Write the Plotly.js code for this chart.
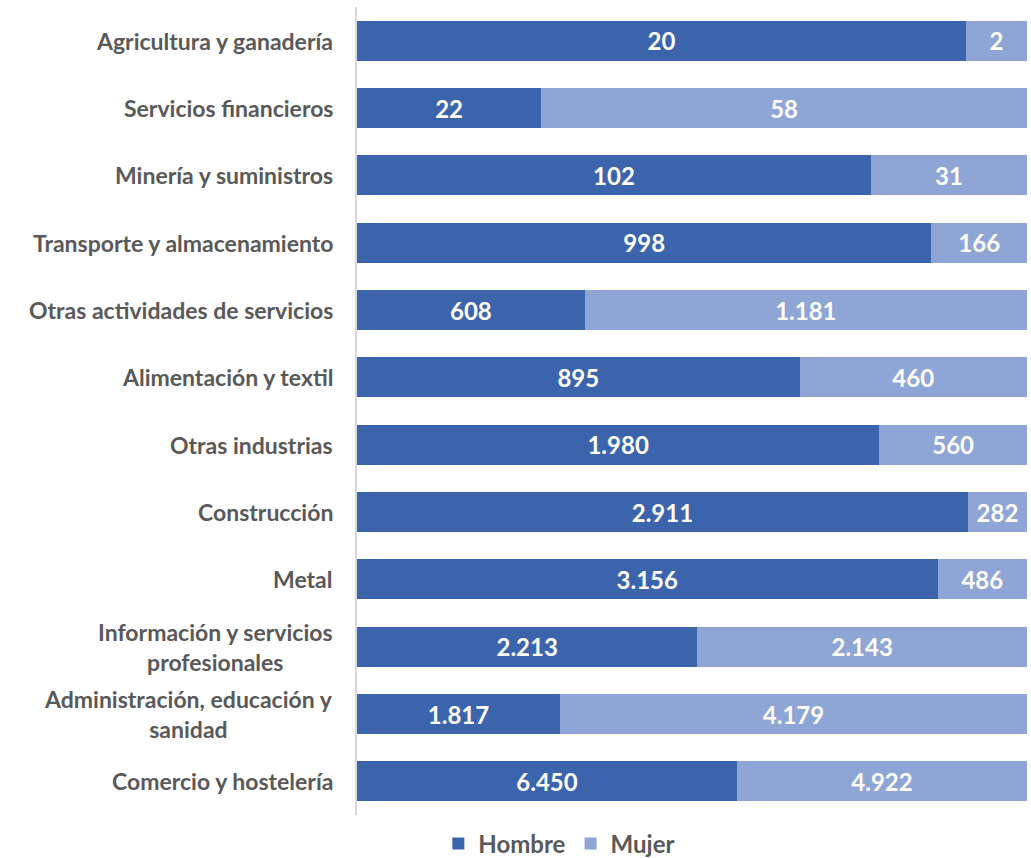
<!DOCTYPE html>
<html>
<head>
<meta charset="utf-8">
<script src="https://cdn.plot.ly/plotly-3.0.1.min.js"></script>
<style>html,body{margin:0;padding:0;background:#fff;}#chart{width:1031px;height:858px;}</style>
</head>
<body>
<div id="chart"></div>
<script>
const categories = [
  "Agricultura y ganadería",
  "Servicios financieros",
  "Minería y suministros",
  "Transporte y almacenamiento",
  "Otras actividades de servicios",
  "Alimentación y textil",
  "Otras industrias",
  "Construcción",
  "Metal",
  "Información y servicios<br>profesionales",
  "Administración, educación y<br>sanidad",
  "Comercio y hostelería"
];
const hombre = [20, 22, 102, 998, 608, 895, 1980, 2911, 3156, 2213, 1817, 6450];
const mujer  = [2, 58, 31, 166, 1181, 460, 560, 282, 486, 2143, 4179, 4922];

function fmt(v){ return String(v).replace(/\B(?=(\d{3})+(?!\d))/g, "."); }

const FONT = "Lato, 'Open Sans', sans-serif";
const ids = categories.map((c,i)=>"c"+i);

const common = {
  type: 'bar', orientation: 'h', y: ids,
  textposition: 'inside', insidetextanchor: 'middle', constraintext: 'none', textangle: 0,
  textfont: {family: FONT, size: 24, color: '#ffffff', weight: 'bold'},
  hoverinfo: 'skip'
};

const traces = [
  Object.assign({}, common, {name: 'Hombre', x: hombre, text: hombre.map(fmt), marker: {color: '#3C64AD'}}),
  Object.assign({}, common, {name: 'Mujer', x: mujer, text: mujer.map(fmt), marker: {color: '#8FA5D5'}})
];

const annotations = categories.map((c,i)=>({
  x: 0, xref: 'paper', xshift: -22, y: ids[i], yref: 'y',
  text: c, showarrow: false, xanchor: 'right', yanchor: 'middle', align: 'center',
  font: {family: FONT, size: 23, color: '#595959', weight: 'bold'}
}));

const layout = {
  width: 1031, height: 858,
  margin: {l: 357, r: 4, t: 7, b: 43, autoexpand: false},
  barmode: 'stack', barnorm: 'percent', bargap: 0.41,
  paper_bgcolor: '#ffffff', plot_bgcolor: '#ffffff',
  showlegend: true,
  legend: {orientation: 'h', x: 0.302, xanchor: 'center', y: -0.008, yanchor: 'top',
    font: {family: FONT, size: 24, color: '#595959', weight: 'bold'}, itemwidth: 30, traceorder: 'normal'},
  xaxis: {range: [0, 100], showgrid: false, zeroline: false, showticklabels: false, showline: false, fixedrange: true},
  yaxis: {autorange: 'reversed', showticklabels: false, showgrid: false, zeroline: false,
    showline: true, linecolor: '#d9d9d9', linewidth: 2, ticks: ''},
  annotations: annotations
};

Plotly.newPlot('chart', traces, layout, {displayModeBar: false, staticPlot: true});
</script>
</body>
</html>
